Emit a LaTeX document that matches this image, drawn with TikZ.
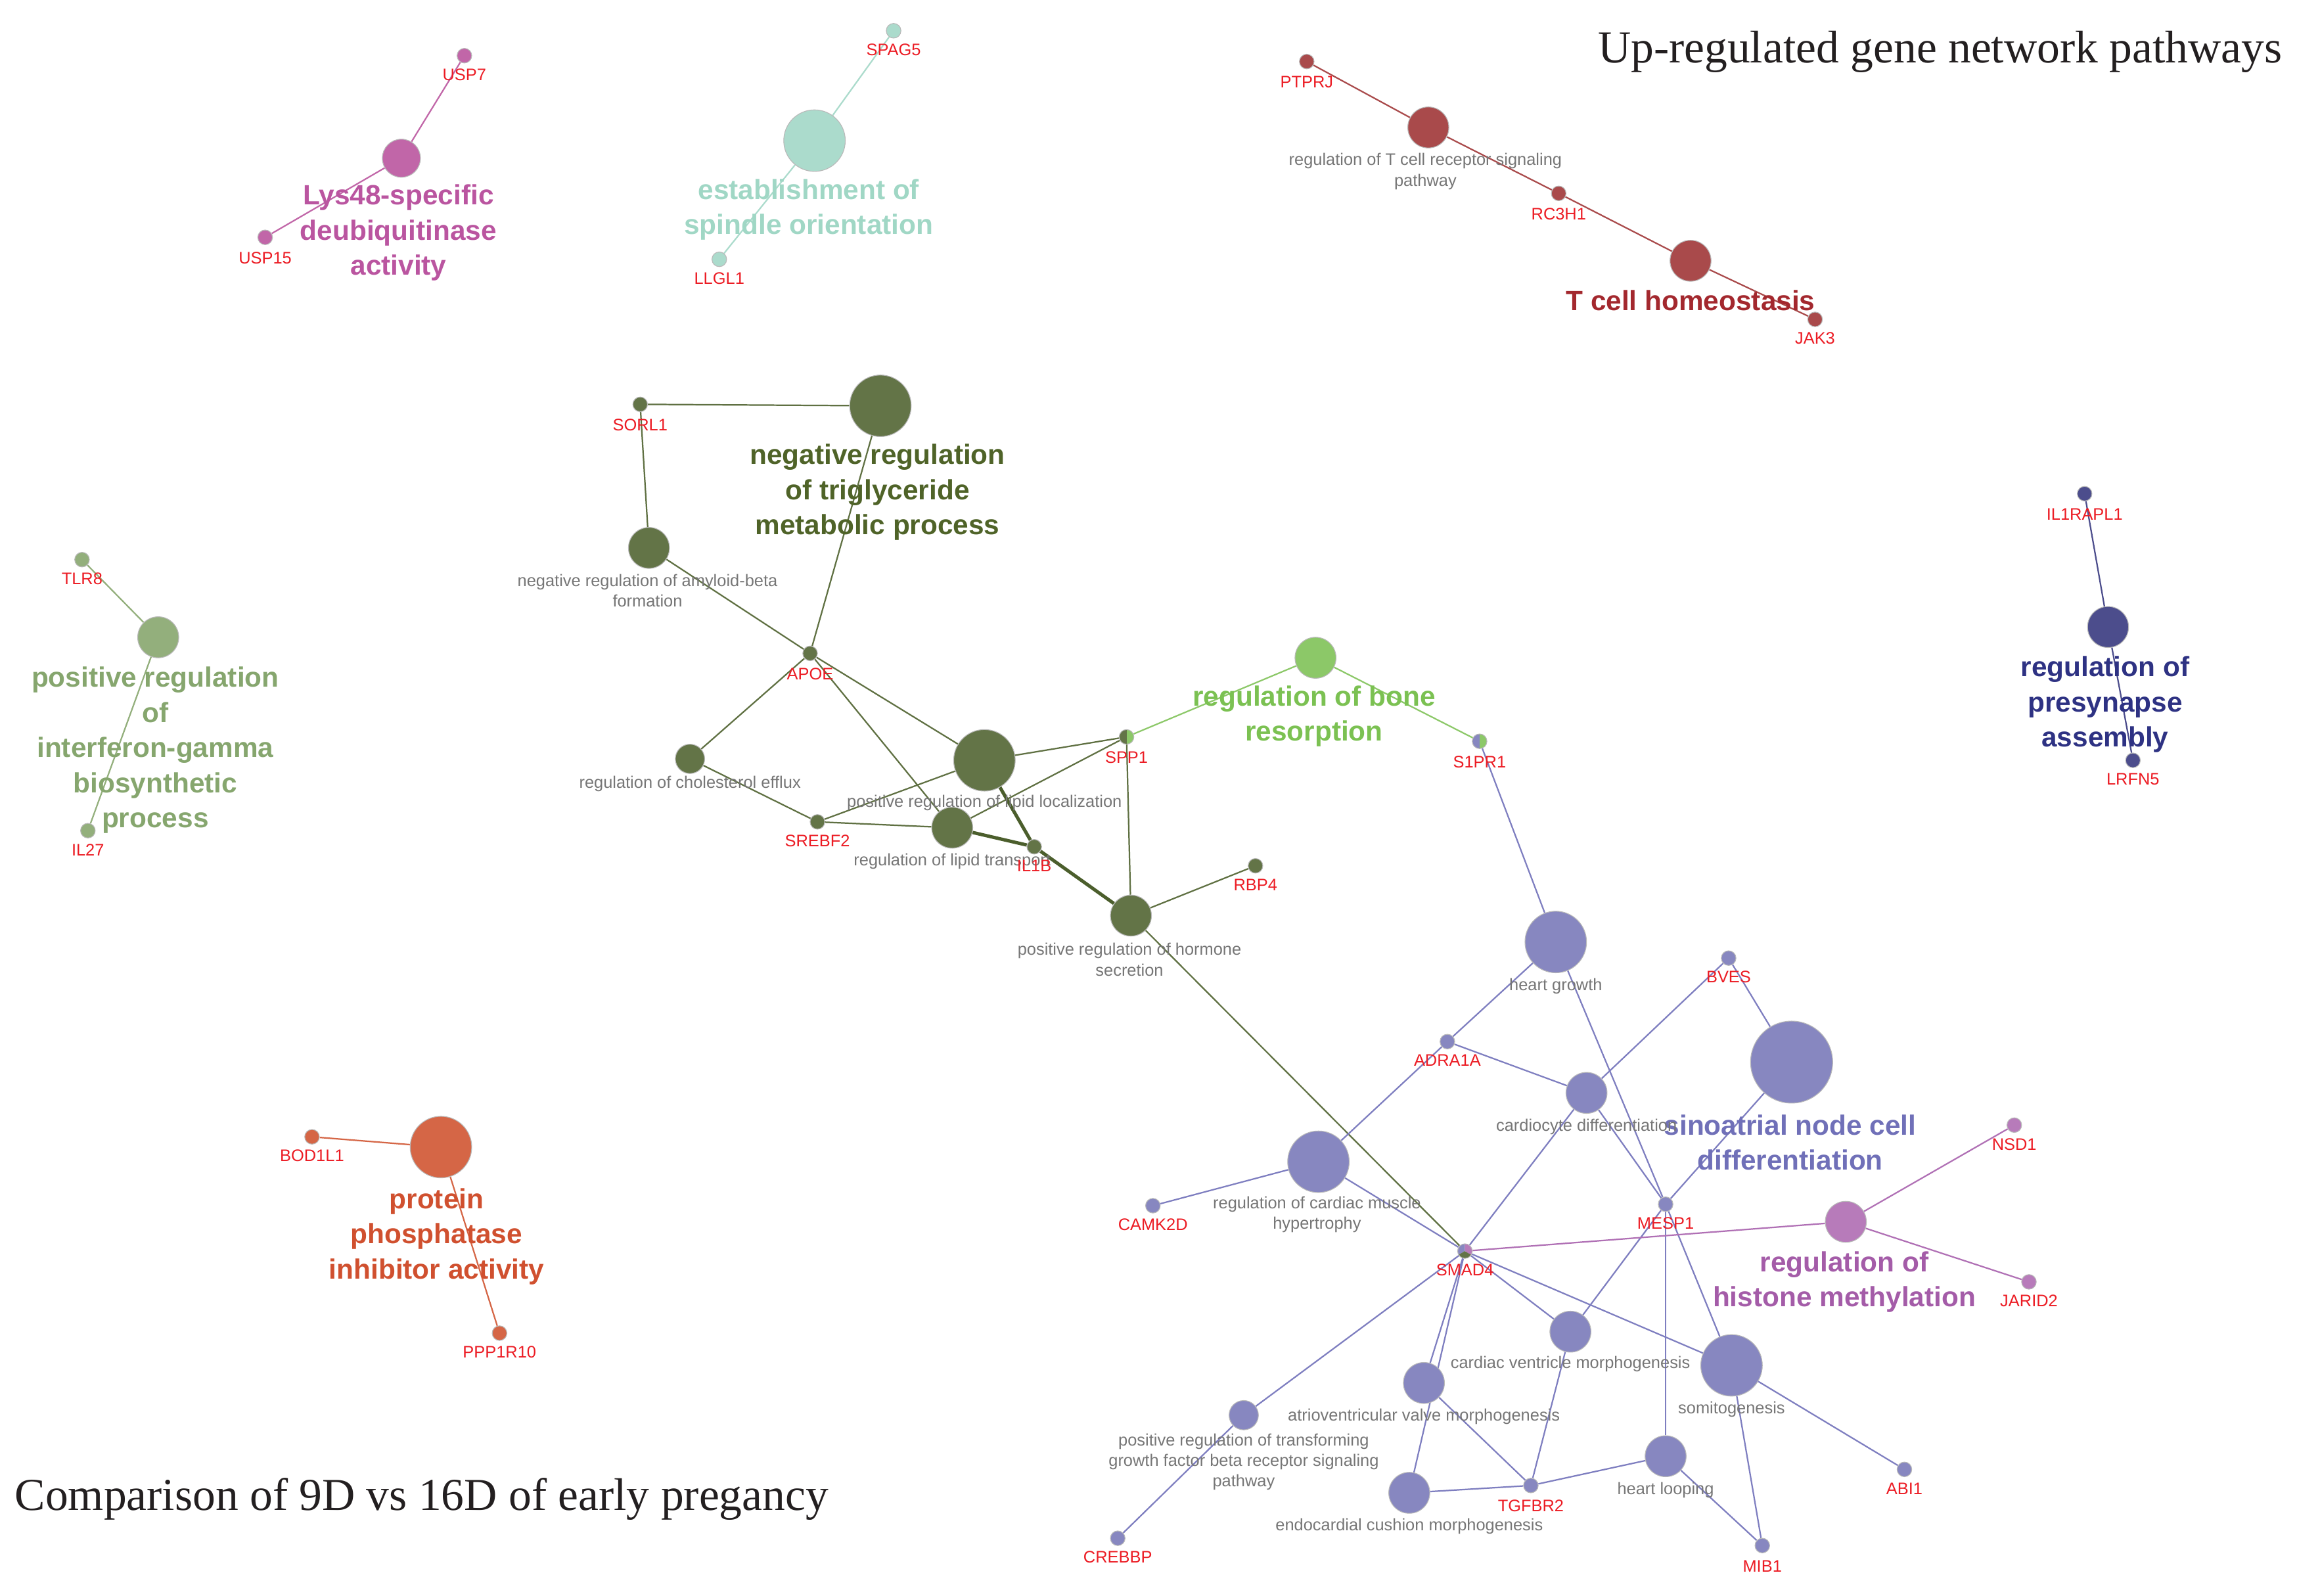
\documentclass[tikz,border=0pt]{standalone}
\usepackage{fontspec}
\setmainfont{Liberation Sans}
\newfontfamily\titlefont{Liberation Serif}
\usetikzlibrary{backgrounds}
\definecolor{pinkn}{HTML}{C166A8}\definecolor{pinkt}{HTML}{BA55A0}
\definecolor{tealn}{HTML}{ABDBCC}\definecolor{tealt}{HTML}{A0D7C5}
\definecolor{redn}{HTML}{A94A4B}\definecolor{redt}{HTML}{A3282E}
\definecolor{olivn}{HTML}{637447}\definecolor{olivt}{HTML}{4F6328}
\definecolor{olive}{HTML}{5F7042}\definecolor{olivk}{HTML}{4B5E2C}
\definecolor{bonen}{HTML}{8CC868}\definecolor{bonet}{HTML}{7BC152}
\definecolor{navyn}{HTML}{4C4D8C}\definecolor{navyt}{HTML}{2E3283}
\definecolor{sagen}{HTML}{93AF7C}\definecolor{saget}{HTML}{86A66E}
\definecolor{orangen}{HTML}{D56646}\definecolor{oranget}{HTML}{D0502F}
\definecolor{purpn}{HTML}{8787C0}\definecolor{purpt}{HTML}{7070B8}\definecolor{purpe}{HTML}{7E7EC0}
\definecolor{histn}{HTML}{B77BBA}\definecolor{histt}{HTML}{A45CA8}\definecolor{histe}{HTML}{B070B5}
\definecolor{genered}{HTML}{EC1C24}\definecolor{graytxt}{HTML}{767676}\definecolor{titlec}{HTML}{231F20}
\tikzset{
  gnode/.style={circle, draw=gray!55, line width=0.5pt, minimum size=10pt, inner sep=0pt},
  tnode/.style={circle, draw=gray!55, line width=0.5pt, inner sep=0pt},
  glab/.style={text=genered, font=\fontsize{11.4}{14}\selectfont, inner sep=0pt},
  tlab/.style={text=graytxt, font=\fontsize{11.4}{14}\selectfont, inner sep=0pt, align=center},
  blab/.style={font=\bfseries\fontsize{19}{24}\selectfont, inner sep=0pt, align=center},
  ttl/.style={text=titlec, font=\titlefont\fontsize{31.2}{36}\selectfont, inner sep=0pt},
  ed/.style={line width=1pt},
  thk/.style={line width=2.3pt},
}
\begin{document}
\begin{tikzpicture}[x=1pt,y=-1pt]
\useasboundingbox (0,0) rectangle (1568,1089);
% titles
\node[ttl, anchor=base east] (title) at (1558,43) {Up-regulated gene network pathways};
\node[ttl, anchor=base west] (subtitle) at (10,1031) {Comparison of 9D vs 16D of early pregancy};
% pink group
\node[gnode, fill=pinkn] (usp7) at (317,38) {};
\node[glab] (usp7l) at (317,51) {USP7};
\node[tnode, minimum size=26pt, fill=pinkn] (lys) at (274,108) {};
\node[blab, text=pinkt] (lysl) at (272,159) {Lys48-specific\\deubiquitinase\\activity};
\node[gnode, fill=pinkn] (usp15) at (181,162) {};
\node[glab] (usp15l) at (181,176) {USP15};
% teal group
\node[gnode, fill=tealn] (spag5) at (610,21) {};
\node[glab] (spag5l) at (610,34) {SPAG5};
\node[tnode, minimum size=42pt, fill=tealn] (spin) at (556,96) {};
\node[blab, text=tealt] (spinl) at (552,143) {establishment of\\spindle orientation};
\node[gnode, fill=tealn] (llgl1) at (491,177) {};
\node[glab] (llgl1l) at (491,190) {LLGL1};
% red group
\node[gnode, fill=redn] (ptprj) at (892,42) {};
\node[glab] (ptprjl) at (892,56) {PTPRJ};
\node[tnode, minimum size=28pt, fill=redn] (tcr) at (975,87) {};
\node[tlab] (tcrl) at (973,117) {regulation of T cell receptor signaling\\pathway};
\node[gnode, fill=redn] (rc3h1) at (1064,132) {};
\node[glab] (rc3h1l) at (1064,146) {RC3H1};
\node[tnode, minimum size=28pt, fill=redn] (tch) at (1154,178) {};
\node[blab, text=redt] (tchl) at (1154,205) {T cell homeostasis};
\node[gnode, fill=redn] (jak3) at (1239,218) {};
\node[glab] (jak3l) at (1239,231) {JAK3};
% olive group
\node[gnode, fill=olivn] (sorl1) at (437,276) {};
\node[glab] (sorl1l) at (437,290) {SORL1};
\node[tnode, minimum size=42pt, fill=olivn] (negtrig) at (601,277) {};
\node[blab, text=olivt] (negtrigl) at (599,336) {negative regulation\\of triglyceride\\metabolic process};
\node[tnode, minimum size=28pt, fill=olivn] (amyl) at (443,374) {};
\node[tlab] (amyll) at (442,403) {negative regulation of amyloid-beta\\formation};
\node[gnode, fill=olivn] (apoe) at (553,446) {};
\node[glab] (apoel) at (553,460) {APOE};
\node[tnode, minimum size=20pt, fill=olivn] (chol) at (471,518) {};
\node[tlab] (choll) at (471,535) {regulation of cholesterol efflux};
\node[tnode, minimum size=42pt, fill=olivn] (lipl) at (672,519) {};
\node[tlab] (lipll) at (672,548) {positive regulation of lipid localization};
\node[gnode, path picture={\fill[olivn] (path picture bounding box.south west) rectangle (path picture bounding box.north);
  \fill[bonen] (path picture bounding box.south) rectangle (path picture bounding box.north east);}] (spp1) at (769,503) {};
\node[glab] (spp1l) at (769,517) {SPP1};
\node[gnode, fill=olivn] (srebf2) at (558,561) {};
\node[glab] (srebf2l) at (558,574) {SREBF2};
\node[tnode, minimum size=28pt, fill=olivn] (liptr) at (650,565) {};
\node[tlab] (liptrl) at (650,588) {regulation of lipid transport};
\node[gnode, fill=olivn] (il1b) at (706,578) {};
\node[glab] (il1bl) at (706,591) {IL1B};
\node[tnode, minimum size=28pt, fill=olivn] (horm) at (772,625) {};
\node[tlab] (horml) at (771,655) {positive regulation of hormone\\secretion};
\node[gnode, fill=olivn] (rbp4) at (857,591) {};
\node[glab] (rbp4l) at (857,604) {RBP4};
% light green group
\node[tnode, minimum size=28pt, fill=bonen] (bone) at (898,449) {};
\node[blab, text=bonet] (bonel) at (897,489) {regulation of bone\\resorption};
\node[gnode, path picture={\fill[purpn] (path picture bounding box.south west) rectangle (path picture bounding box.north);
  \fill[bonen] (path picture bounding box.south) rectangle (path picture bounding box.north east);}] (s1pr1) at (1010,506) {};
\node[glab] (s1pr1l) at (1010,520) {S1PR1};
% navy group
\node[gnode, fill=navyn] (il1rapl1) at (1423,337) {};
\node[glab] (il1rapl1l) at (1423,351) {IL1RAPL1};
\node[tnode, minimum size=28pt, fill=navyn] (presyn) at (1439,428) {};
\node[blab, text=navyt] (presynl) at (1437,481) {regulation of\\presynapse\\assembly};
\node[gnode, fill=navyn] (lrfn5) at (1456,519) {};
\node[glab] (lrfn5l) at (1456,532) {LRFN5};
% sage group
\node[gnode, fill=sagen] (tlr8) at (56,382) {};
\node[glab] (tlr8l) at (56,395) {TLR8};
\node[tnode, minimum size=28pt, fill=sagen] (ifng) at (108,435) {};
\node[blab, text=saget] (ifngl) at (106,512) {positive regulation\\of\\interferon-gamma\\biosynthetic\\process};
\node[gnode, fill=sagen] (il27) at (60,567) {};
\node[glab] (il27l) at (60,580) {IL27};
% orange group
\node[gnode, fill=orangen] (bod1l1) at (213,776) {};
\node[glab] (bod1l1l) at (213,789) {BOD1L1};
\node[tnode, minimum size=42pt, fill=orangen] (ppase) at (301,783) {};
\node[blab, text=oranget] (ppasel) at (298,844) {protein\\phosphatase\\inhibitor activity};
\node[gnode, fill=orangen] (ppp1r10) at (341,910) {};
\node[glab] (ppp1r10l) at (341,923) {PPP1R10};
% purple group
\node[tnode, minimum size=42pt, fill=purpn] (hgrow) at (1062,643) {};
\node[tlab] (hgrowl) at (1062,673) {heart growth};
\node[gnode, fill=purpn] (bves) at (1180,654) {};
\node[glab] (bvesl) at (1180,667) {BVES};
\node[tnode, minimum size=56pt, fill=purpn] (sino) at (1223,725) {};
\node[blab, text=purpt] (sinol) at (1222,780) {sinoatrial node cell\\differentiation};
\node[gnode, fill=purpn] (adra1a) at (988,711) {};
\node[glab] (adra1al) at (988,724) {ADRA1A};
\node[tnode, minimum size=28pt, fill=purpn] (cardio) at (1083,746) {};
\node[tlab] (cardiol) at (1083,769) {cardiocyte differentiation};
\node[tnode, minimum size=42pt, fill=purpn] (hyper) at (900,793) {};
\node[tlab] (hyperl) at (899,829) {regulation of cardiac muscle\\hypertrophy};
\node[gnode, fill=purpn] (camk2d) at (787,823) {};
\node[glab] (camk2dl) at (787,836) {CAMK2D};
\node[gnode, fill=purpn] (mesp1) at (1137,822) {};
\node[glab] (mesp1l) at (1137,835) {MESP1};
\node[gnode, path picture={
  \fill[purpn] (path picture bounding box.center) -- +(90:10pt) -- +(150:10pt) -- +(210:10pt) -- cycle;
  \fill[olivn] (path picture bounding box.center) -- +(210:10pt) -- +(270:10pt) -- +(330:10pt) -- cycle;
  \fill[histn] (path picture bounding box.center) -- +(330:10pt) -- +(30:10pt) -- +(90:10pt) -- cycle;}] (smad4) at (1000,854) {};
\node[glab] (smad4l) at (1000,867) {SMAD4};
\node[tnode, minimum size=28pt, fill=histn] (hist) at (1260,834) {};
\node[blab, text=histt] (histl) at (1259,875) {regulation of\\histone methylation};
\node[gnode, fill=histn] (nsd1) at (1375,768) {};
\node[glab] (nsd1l) at (1375,781) {NSD1};
\node[gnode, fill=histn] (jarid2) at (1385,875) {};
\node[glab] (jarid2l) at (1385,888) {JARID2};
\node[tnode, minimum size=28pt, fill=purpn] (vent) at (1072,909) {};
\node[tlab] (ventl) at (1072,931) {cardiac ventricle morphogenesis};
\node[tnode, minimum size=42pt, fill=purpn] (somito) at (1182,932) {};
\node[tlab] (somitol) at (1182,962) {somitogenesis};
\node[tnode, minimum size=28pt, fill=purpn] (avv) at (972,944) {};
\node[tlab] (avvl) at (972,967) {atrioventricular valve morphogenesis};
\node[tnode, minimum size=20pt, fill=purpn] (tgfb) at (849,966) {};
\node[tlab] (tgfbl) at (849,998) {positive regulation of transforming\\growth factor beta receptor signaling\\pathway};
\node[tnode, minimum size=28pt, fill=purpn] (endo) at (962,1019) {};
\node[tlab] (endol) at (962,1042) {endocardial cushion morphogenesis};
\node[gnode, fill=purpn] (tgfbr2) at (1045,1014) {};
\node[glab] (tgfbr2l) at (1045,1028) {TGFBR2};
\node[tnode, minimum size=28pt, fill=purpn] (hloop) at (1137,994) {};
\node[tlab] (hloopl) at (1137,1017) {heart looping};
\node[gnode, fill=purpn] (abi1) at (1300,1003) {};
\node[glab] (abi1l) at (1300,1016) {ABI1};
\node[gnode, fill=purpn] (crebbp) at (763,1050) {};
\node[glab] (crebbpl) at (763,1063) {CREBBP};
\node[gnode, fill=purpn] (mib1) at (1203,1055) {};
\node[glab] (mib1l) at (1203,1069) {MIB1};
% edges
\begin{scope}[on background layer]
\fill[white] (0,0) rectangle (1568,1089);
\draw[ed, pinkn] (usp7) -- (lys) -- (usp15);
\draw[ed, tealn] (spag5) -- (spin) -- (llgl1);
\draw[ed, redn] (ptprj) -- (tcr) -- (rc3h1) -- (tch) -- (jak3);
\draw[ed, sagen] (tlr8) -- (ifng) -- (il27);
\draw[ed, orangen] (bod1l1) -- (ppase) -- (ppp1r10);
\draw[ed, navyn] (il1rapl1) -- (presyn) -- (lrfn5);
\draw[ed, olive] (sorl1) -- (negtrig);
\draw[ed, olive] (sorl1) -- (amyl);
\draw[ed, olive] (amyl) -- (apoe);
\draw[ed, olive] (negtrig) -- (apoe);
\draw[ed, olive] (apoe) -- (chol);
\draw[ed, olive] (apoe) -- (lipl);
\draw[ed, olive] (apoe) -- (liptr);
\draw[ed, olive] (chol) -- (srebf2);
\draw[ed, olive] (srebf2) -- (lipl);
\draw[ed, olive] (srebf2) -- (liptr);
\draw[ed, olive] (lipl) -- (spp1);
\draw[ed, olive] (liptr) -- (spp1);
\draw[ed, olive] (spp1) -- (horm);
\draw[ed, olive] (horm) -- (rbp4);
\draw[ed, olive] (horm) -- (smad4);
\draw[thk, olivk] (lipl) -- (il1b);
\draw[thk, olivk] (liptr) -- (il1b);
\draw[thk, olivk] (il1b) -- (horm);
\draw[ed, bonen] (spp1) -- (bone) -- (s1pr1);
\draw[ed, purpe] (s1pr1) -- (hgrow);
\draw[ed, purpe] (hgrow) -- (adra1a);
\draw[ed, purpe] (hgrow) -- (mesp1);
\draw[ed, purpe] (bves) -- (cardio);
\draw[ed, purpe] (bves) -- (sino);
\draw[ed, purpe] (sino) -- (mesp1);
\draw[ed, purpe] (adra1a) -- (cardio);
\draw[ed, purpe] (adra1a) -- (hyper);
\draw[ed, purpe] (cardio) -- (mesp1);
\draw[ed, purpe] (cardio) -- (smad4);
\draw[ed, purpe] (hyper) -- (camk2d);
\draw[ed, purpe] (hyper) -- (smad4);
\draw[ed, purpe] (smad4) -- (somito);
\draw[ed, purpe] (smad4) -- (vent);
\draw[ed, purpe] (smad4) -- (avv);
\draw[ed, purpe] (smad4) -- (endo);
\draw[ed, purpe] (smad4) -- (tgfb);
\draw[ed, purpe] (tgfb) -- (crebbp);
\draw[ed, purpe] (mesp1) -- (vent);
\draw[ed, purpe] (mesp1) -- (hloop);
\draw[ed, purpe] (mesp1) -- (somito);
\draw[ed, purpe] (vent) -- (tgfbr2);
\draw[ed, purpe] (avv) -- (tgfbr2);
\draw[ed, purpe] (endo) -- (tgfbr2);
\draw[ed, purpe] (hloop) -- (tgfbr2);
\draw[ed, purpe] (hloop) -- (mib1);
\draw[ed, purpe] (somito) -- (mib1);
\draw[ed, purpe] (somito) -- (abi1);
\draw[ed, histe] (smad4) -- (hist);
\draw[ed, histe] (hist) -- (nsd1);
\draw[ed, histe] (hist) -- (jarid2);
\end{scope}
\end{tikzpicture}
\end{document}
